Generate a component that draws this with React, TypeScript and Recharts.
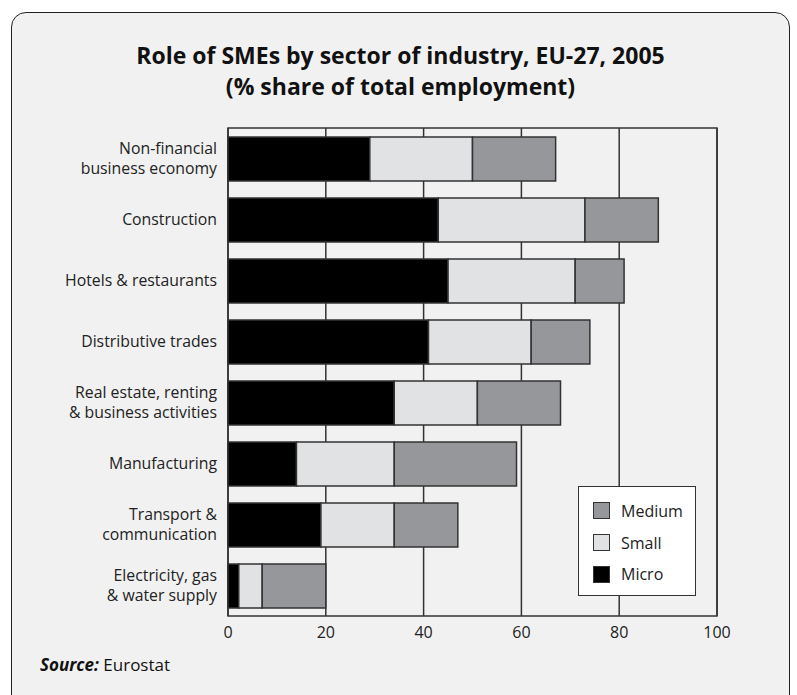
import React from "react";
import {
  BarChart,
  Bar,
  XAxis,
  YAxis,
  CartesianGrid,
  Legend,
  ReferenceArea,
} from "recharts";

const sectors = [
  "Non-financial\nbusiness economy",
  "Construction",
  "Hotels & restaurants",
  "Distributive trades",
  "Real estate, renting\n& business activities",
  "Manufacturing",
  "Transport &\ncommunication",
  "Electricity, gas\n& water supply",
];
const micro = [29, 43, 45, 41, 34, 14, 19, 2.2];
const small = [21, 30, 26, 21, 17, 20, 15, 4.8];
const medium = [17, 15, 10, 12, 17, 25, 13, 13];
const xTicks = [0, 20, 40, 60, 80, 100];

const FONT = "'Open Sans', 'Noto Sans', sans-serif";
const LINE = "#333";

const colors = { micro: "#000000", small: "#e1e2e4", medium: "#96979b" };

const data = sectors.map((name, i) => ({
  name,
  micro: micro[i],
  small: small[i],
  medium: medium[i],
}));

const legendItems = [
  { label: "Medium", color: colors.medium },
  { label: "Small", color: colors.small },
  { label: "Micro", color: colors.micro },
];

function SectorTick(props: any) {
  const { x, y, payload } = props;
  const lines = String(payload.value).split("\n");
  const lh = 20;
  const start = -((lines.length - 1) * lh) / 2;
  return (
    <g>
      {lines.map((l, i) => (
        <text
          key={i}
          x={x}
          y={y + start + i * lh}
          dy={5.5}
          textAnchor="end"
          fontFamily={FONT}
          fontSize={15.8}
          fill="#222"
        >
          {l}
        </text>
      ))}
    </g>
  );
}

function LegendBox() {
  return (
    <div
      style={{
        width: 118,
        height: 110,
        boxSizing: "border-box",
        background: "#fff",
        border: `1.5px solid ${LINE}`,
        padding: "8px 0 0 14px",
        fontFamily: FONT,
        fontSize: 16,
        color: "#222",
      }}
    >
      {legendItems.map((it) => (
        <div
          key={it.label}
          style={{ display: "flex", alignItems: "center", height: 31.7 }}
        >
          <span
            style={{
              display: "inline-block",
              width: 15,
              height: 15,
              background: it.color,
              border: `1px solid ${LINE}`,
              marginRight: 11,
            }}
          />
          {it.label}
        </div>
      ))}
    </div>
  );
}

export default function App() {
  return (
    <div
      style={{
        position: "absolute",
        left: 0,
        top: 0,
        width: 797,
        height: 695,
        overflow: "hidden",
        background: "#fff",
      }}
    >
      <div
        style={{
          position: "absolute",
          left: 11,
          top: 12,
          width: 779,
          height: 720,
          boxSizing: "border-box",
          background: "#f1f1f1",
          border: "1.2px solid #222",
          borderRadius: 15,
        }}
      />
      <div
        style={{
          position: "absolute",
          left: 2,
          top: 40,
          width: 797,
          textAlign: "center",
          fontFamily: FONT,
          fontWeight: 700,
          fontSize: 23,
          lineHeight: "31px",
          color: "#111",
        }}
      >
        Role of SMEs by sector of industry, EU-27, 2005
        <br />
        (% share of total employment)
      </div>
      <div style={{ position: "absolute", left: 0, top: 0 }}>
        <BarChart
          width={797}
          height={695}
          data={data}
          layout="vertical"
          margin={{ top: 128, right: 80, bottom: 49, left: 0 }}
        >
          <CartesianGrid
            horizontal={false}
            stroke={LINE}
            strokeWidth={1.5}
          />
          <XAxis
            type="number"
            domain={[0, 100]}
            ticks={xTicks}
            height={30}
            axisLine={false}
            tickLine={false}
            tickMargin={5}
            tick={{ fontFamily: FONT, fontSize: 16, fill: "#222" }}
          />
          <YAxis
            type="category"
            dataKey="name"
            width={228}
            axisLine={false}
            tickLine={false}
            tickMargin={5}
            tick={<SectorTick />}
            interval={0}
          />
          <ReferenceArea
            x1={0}
            x2={100}
            fill="none"
            fillOpacity={0}
            stroke={LINE}
            strokeWidth={1.5}
          />
          <Bar
            dataKey="micro"
            stackId="s"
            fill={colors.micro}
            stroke={LINE}
            strokeWidth={1.5}
            barSize={44}
            isAnimationActive={false}
          />
          <Bar
            dataKey="small"
            stackId="s"
            fill={colors.small}
            stroke={LINE}
            strokeWidth={1.5}
            barSize={44}
            isAnimationActive={false}
          />
          <Bar
            dataKey="medium"
            stackId="s"
            fill={colors.medium}
            stroke={LINE}
            strokeWidth={1.5}
            barSize={44}
            isAnimationActive={false}
          />
          <Legend
            layout="vertical"
            align="center"
            verticalAlign="middle"
            content={() => <LegendBox />}
            wrapperStyle={{ left: 578, top: 486, width: 118, height: 110 }}
          />
        </BarChart>
      </div>
      <div
        style={{
          position: "absolute",
          left: 40,
          top: 653,
          fontFamily: FONT,
          fontSize: 17,
          color: "#111",
        }}
      >
        <b>
          <i>Source:</i>
        </b>{" "}
        Eurostat
      </div>
    </div>
  );
}
